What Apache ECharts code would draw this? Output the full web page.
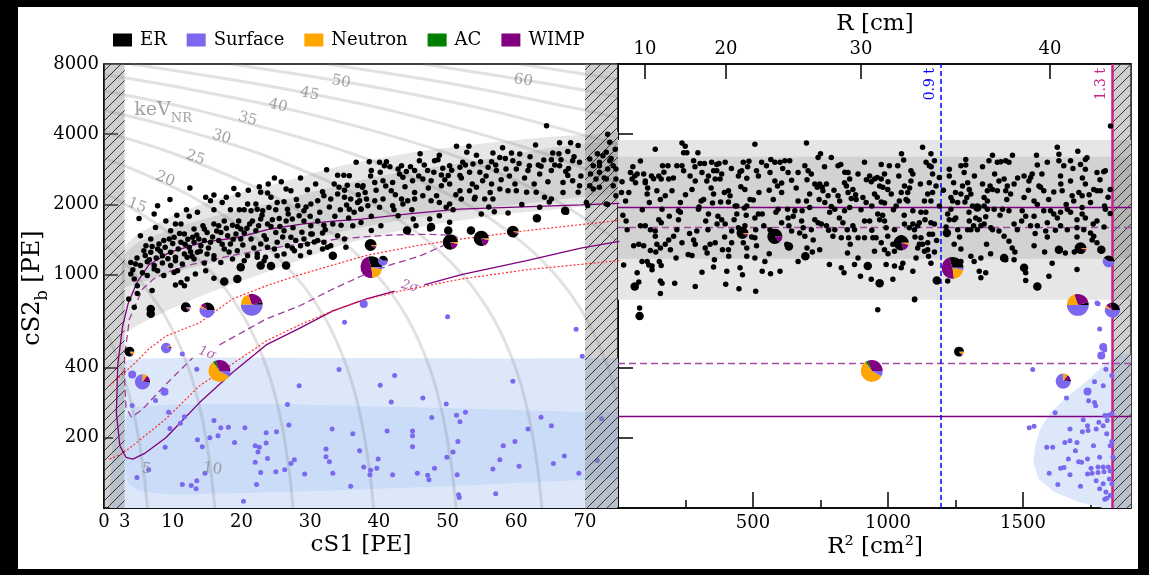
<!DOCTYPE html>
<html><head><meta charset="utf-8">
<script src="https://cdn.jsdelivr.net/npm/echarts@6/dist/echarts.min.js"></script>
<style>
html,body{margin:0;padding:0;background:#000;width:1149px;height:575px;overflow:hidden}
#c{position:absolute;left:18px;top:7px;width:1120px;height:562px;background:#fff}
</style></head><body><div id="c"></div>
<script>
// ---------------- DATA ----------------
const legendNames = ['ER','Surface','Neutron','AC','WIMP'];
const cs1Ticks = [3,10,20,30,40,50,60,70];
const cs1Labels = [0,3,10,20,30,40,50,60,70];
const cs2Ticks = [200,400,1000,2000,4000];
const cs2Labels = [200,400,1000,2000,4000,8000];
const r2Major = [500,1000,1500];
const r2Minor = [250,750,1250,1750];
const rTopTicks = [100,400,900,1600]; // R^2 of R = 10,20,30,40 cm

// ER band (left): cS1 grid, outer (2 sigma) and inner (1 sigma) edges
const erBandX   = [3,5,10,15,20,25,30,35,40,45,50,55,60,65,70,74.8];
const erOuterLo = [560,610,720,830,940,1060,1200,1350,1480,1580,1680,1760,1840,1900,1960,2020];
const erOuterHi = [1330,1500,1800,2050,2250,2450,2700,2950,3150,3350,3500,3650,3780,3900,3980,4100];
const erInnerLo = [880,920,1020,1110,1200,1310,1420,1540,1650,1750,1840,1920,2000,2080,2160,2230];
const erInnerHi = [1230,1380,1580,1750,1900,2050,2250,2450,2650,2800,2950,3100,3300,3500,3650,3750];
// surface band (left)
const sfOuter = [[0.8,100],[0.8,110],[1.2,185],[2,330],[2.8,410],[3.5,432],[5,437],[10,440],[20,442],[30,440],[40,440],[50,438],[60,437],[70,440],[74.8,440],[74.8,100]];
const sfInner = [[3,150],[3,200],[3.3,250],[4.5,272],[10,278],[20,280],[30,277],[40,272],[50,268],[60,263],[70,258],[74.8,258],[74.8,134],[70,132],[60,128],[50,124],[40,121],[30,118],[20,116],[10,114],[5,118],[3.5,128]];
// right panel bands
const rBandOuter = [780,3780];
const rBandInner = [1170,3200];
const rSurfBlob = [[1900,460],[1849,450],[1797,407],[1745,357],[1668,303],[1603,257],[1564,218],[1545,185],[1538,157],[1558,133],[1616,117],[1706,106],[1797,100],[1900,100]];

// keV_NR iso-energy contours (cS1, cS2b)
const kev05 = [[6.32,100],[5.68,150],[4.39,250],[2.47,400],[1.2,500],[0,593]];
const kev10 = [[16.12,100],[15.48,150],[14.19,250],[12.27,400],[9.07,650],[4.58,1000],[2,1200],[0,1357]];
const kev15 = [[27.52,100],[26.88,150],[25.59,250],[23.67,400],[20.47,650],[15.98,1000],[9.57,1500],[4,1934],[0,2246]];
const kev20 = [[39.22,100],[38.58,150],[37.29,250],[35.37,400],[32.17,650],[27.68,1000],[21.27,1500],[12.29,2200],[5,2769],[0,3159]];
const kev25 = [[51.22,100],[50.58,150],[49.29,250],[47.37,400],[44.17,650],[39.68,1000],[33.27,1500],[24.29,2200],[10.19,3300],[0,4095]];
const kev30 = [[63.72,100],[63.08,150],[61.79,250],[59.87,400],[56.67,650],[52.18,1000],[45.77,1500],[36.79,2200],[22.69,3300],[10,4290],[0,5070]];
const kev35 = [[74.8,289],[73.37,400],[70.17,650],[65.68,1000],[59.27,1500],[50.29,2200],[36.19,3300],[14.4,5000],[0,6123]];
const kev40 = [[74.8,1381],[73.27,1500],[64.29,2200],[50.19,3300],[28.4,5000],[9.17,6500],[0,7215]];
const kev45 = [[74.8,2473],[64.19,3300],[42.4,5000],[23.17,6500],[3.94,8000]];
const kev50 = [[74.8,3604],[56.9,5000],[37.67,6500],[18.44,8000]];
const kev55 = [[74.8,4696],[70.9,5000],[51.67,6500],[32.44,8000]];
const kev60 = [[74.8,5788],[65.67,6500],[46.44,8000]];
const kev65 = [[74.8,6880],[60.44,8000]];
const kevLabelText = ['5','10','15','20','25','30','35','40','45','50','60'];
const kevLabelPos = [[6.2,147],[15.8,147],[4.8,1975],[8.9,2570],[13.3,3170],[17.1,3890],[20.9,4650],[25.3,5300],[29.9,5950],[34.5,6720],[61.0,6800]];
const kevUnitPos = [8.6,4950];

// WIMP contours and NR quantile lines (cS1, cS2b)
const wimp2sA = [[75,2020],[69.4,1990],[60,1950],[51.7,1910],[45,1830],[37.5,1730],[33.9,1700],[29,1650],[24.2,1570],[19.3,1440],[14.5,1380],[9.6,1250],[6.5,1100],[4.8,927],[3.5,750],[2.7,600],[2.0,410],[1.8,256],[2.3,185],[3.2,165],[4.2,162],[6,172],[9,200],[13.9,283],[18.7,381],[23.6,500],[28.5,590],[33.3,700],[38.2,787],[42.3,850]];
const wimp2sB = [[46.6,905],[52,1000],[61.5,1150],[69.4,1300],[75,1390]];
const wimp1sA = [[51.5,1440],[50.8,1475],[46.9,1490],[42,1480],[37.5,1450],[33.9,1420],[26.6,1330],[19.3,1220],[12.1,1095],[9,1020],[7.2,958],[5.6,868],[3.7,646],[3.0,450],[3.0,355],[3.2,270],[4.0,245],[5.6,265],[9.05,340],[12.9,440]];
const wimp1sB = [[16.8,500],[23.6,646],[28.5,736],[33.3,868],[38.2,1010],[42,1110],[45.9,1200],[49.3,1330],[51.5,1440]];
const nrUpper = [[0.8,334],[2.5,370],[4.2,410],[6.5,480],[9,545],[13.9,622],[18.7,787],[23.6,896],[28.5,1000],[33.3,1100],[38.2,1210],[45.4,1330],[51.7,1420],[61.5,1545],[75,1710]];
const nrLower = [[0.8,162],[2.5,170],[4.2,185],[6.5,210],[9,241],[13.9,334],[16.8,381],[20,440],[23.6,520],[28.5,610],[33.3,700],[37.2,770],[43,850],[52,958],[61.5,1050],[75,1150]];
const sigmaLabelText = ['2σ','1σ'];
const sigmaLabelPos = [[44.5,890],[15.0,461]];

// right panel reference lines
const r2Cut09 = 1196;   // 0.9 t
const r2Cut13 = 1832;   // 1.3 t
const cs2LinesSolid = [1950,248];
const cs2LinesDashed = [1590,417];

// hatched (excluded) regions
const hatchLeft = [[0,3],[70,74.8]];
const hatchRight = [[1832,1900]];

// ER events (left: cS1, cS2b)
const erLeft = [[36.7,3030],[32.4,2820],[34.0,2670],[34.9,2670],[35.7,2655],[24.8,2600],[23.9,2450],[22.6,2380],[26.5,2330],[27.2,2290],[29.6,2310],[31.8,2270],[33.5,2450],[34.2,2370],[35.4,2420],[36.9,2410],[37.6,2370],[18.9,2340],[22.8,2255],[23.8,2240],[24.3,2150],[25.2,2040],[26.2,2055],[22.1,2010],[20.9,2010],[22.3,1910],[18.4,1900],[19.7,1900],[20.4,1900],[21.4,1880],[23.1,1880],[24.0,1940],[26.7,1910],[28.2,1976],[29.1,1880],[30.1,2010],[31.1,2075],[32.0,2180],[33.0,2110],[34.0,2220],[35.0,2150],[35.9,2110],[36.9,2040],[37.4,1910],[35.3,1990],[35.7,1910],[15.5,2075],[17.2,2040],[16.0,2195],[7.8,1976],[7.3,1820],[5.1,1740],[16.0,1900],
[9.0,1700],[10.4,1650],[11.2,1650],[12.4,1780],[13.1,1568],[14.6,1568],[15.0,1518],[16.0,1650],[16.7,1621],[17.5,1700],[18.7,1630],[19.4,1610],[19.9,1568],[21.6,1700],[22.8,1732],[23.8,1650],[24.3,1610],[25.5,1740],[26.5,1700],[27.4,1732],[28.4,1789],[29.1,1700],[30.1,1621],[31.1,1700],[32.0,1630],[33.3,1650],[34.5,1630],[36.2,1621],[37.4,1675],[7.5,1595],[9.7,1543],[11.7,1493],[12.9,1446],[13.8,1423],[14.6,1400],[17.0,1518],[18.0,1469],[19.2,1493],[20.4,1508],[22.1,1543],[23.3,1469],[25.0,1518],[26.2,1543],[27.2,1446],[27.9,1400],[29.1,1423],[30.3,1493],[31.8,1508],[34.0,1469],[35.0,1423],[5.3,1469],[6.1,1331],[6.8,1423],[8.0,1354],[8.7,1400],[9.5,1423],[10.2,1446],[11.2,1377],[12.4,1310],[13.1,1377],[14.1,1331],[15.5,1377],[16.7,1400],[18.4,1354],[19.9,1423],[21.4,1423],[22.8,1354],[23.8,1310],[25.2,1377],[26.7,1331],[27.7,1268],[28.6,1331],[29.6,1354],[31.1,1400],[32.0,1377],[33.0,1331],[5.8,1268],[6.8,1247],[7.8,1289],[8.5,1206],[9.7,1247],[10.4,1187],[11.7,1227],[12.6,1255],[13.6,1247],[15.0,1227],[16.0,1206],[17.5,1289],[19.4,1268],[20.9,1206],[22.3,1227],[23.5,1187],[24.8,1289],[26.2,1227],[27.4,1297],[28.6,1206],[29.9,1247],
[3.9,1129],[4.6,1112],[5.3,1095],[6.3,1137],[7.3,1095],[7.8,1040],[8.5,1121],[9.7,1095],[10.4,1148],[11.4,1112],[12.1,1187],[13.1,1167],[14.6,1121],[16.0,1167],[17.0,1129],[18.7,1167],[20.4,1148],[22.3,1187],[23.3,1148],[25.2,1206],[3.9,1007],[4.4,958],[4.85,897],[6.3,992],[7.3,1057],[8.7,992],[10.2,1022],[11.2,927],[11.7,897],[12.1,958],[13.3,1007],[14.8,1040],[16.0,965],[10.4,903],[4.85,830],[7.0,855],[4.4,725],[3.6,786],[30.1,1493],[10.7,1040],[31.8,1289],[32.5,1310],[35.2,1310],
[4.2,1050],[4.8,1180],[5.6,1020],[6.0,1210],[6.6,1160],[7.0,1320],[7.6,1180],[8.2,1260],[8.9,1310],[9.3,1170],[10.0,1360],[10.8,1290],[11.0,1500],[11.8,1350],[12.2,1420],[12.8,1200],[13.5,1480],[14.0,1260],[14.4,1620],[15.2,1300],[15.8,1450],[16.4,1540],[17.2,1350],[17.8,1580],[18.2,1250],[18.8,1420],[19.6,1700],[20.2,1340],[20.8,1580],[21.2,1650],[21.8,1300],[22.5,1620],[23.0,1800],[23.6,1420],[24.5,1720],[25.0,1900],[25.6,1610],[26.0,1450],[26.8,1820],[27.5,1590],[28.0,2100],[28.8,1520],[29.4,1950],[30.0,1780],[30.6,1380],[31.4,1850],[32.2,1560],[32.8,1950],[33.6,1780],[34.4,1900],[35.0,2300],[35.6,1750],[36.4,1850],[37.0,2200],[10.6,1800],[12.0,1900],[13.6,1850],[14.8,2150],[17.8,2150],[19.5,2200],[21.0,2300],[25.8,2500],[28.6,2600],[30.8,2450],[12.5,2350],[9.6,2100],
[64.4,4350],[51.3,3550],[53.1,3550],[66.3,3680],[67.9,3680],[69.0,3575],[54.2,3250],[48.8,3250],[48.6,3110],[48.1,3080],[56.6,3320],[59.3,3320],[60.5,3290],[65.3,3320],[67.5,3370],[45.9,3080],[43.3,2933],[41.1,3050],[40.1,3031],[38.6,3050],[40.8,2933],[57.6,3180],[59.5,3080],[56.4,3050],[53.7,2980],[52.2,3031],[51.8,2885],[50.3,2933],[49.3,2860],[47.1,2795],[45.2,2795],[44.0,2770],[42.8,2840],[38.9,2795],[61.9,2933],[63.6,2915],[65.1,3110],[66.5,3110],[68.2,3080],[69.2,3031],[66.3,2933],[67.2,2770],[65.1,2795],[63.4,2700],[61.7,2795],[60.0,2840],[58.5,2840],[57.1,2795],[55.9,2885],[54.7,2748],[53.2,2748],[51.8,2659],[50.1,2659],[49.1,2676],[47.6,2530],[46.4,2571],[44.9,2530],[43.5,2615],[42.0,2487],[40.6,2530],[39.4,2487],[37.7,2408],[37.2,2075],[38.2,2111],[39.4,2075],[40.6,2111],[41.8,2290],[43.3,2111],[44.2,2075],[45.2,2111],[46.4,2180],[47.6,2075],[49.1,2408],[50.3,2447],[51.8,2290],[53.2,2290],[54.2,2368],[55.1,2530],[56.4,2447],[57.6,2329],[58.8,2290],[60.0,2290],[61.5,2255],[62.9,2255],[64.1,2145],[65.1,2111],[66.8,2487],[68.2,2530],[69.2,2408],[67.5,2659],[69.0,2255],[48.8,2041],[50.3,2010],[52.0,2111],[53.9,2111],[55.4,2111],[56.6,2111],[49.8,1945],[43.5,2010],[42.0,1976],[40.1,1945],[38.4,1976],[37.4,1911],[48.8,1790],[47.4,1734],[45.0,1734],[42.8,1790],[40.3,1622],[38.9,1780],[45.4,1622],[47.6,1622],[50.3,1678],[54.9,1820],[56.8,1860],[58.8,1840],[63.4,1945],[67.3,1850],[47.4,1571],[38.9,1545],
[38.0,2250],[38.8,2650],[39.6,2300],[40.2,2750],[41.0,2400],[41.6,2900],[42.4,2200],[43.0,2700],[43.8,2380],[44.6,2900],[45.2,2250],[45.8,2650],[46.6,2950],[47.2,2350],[48.0,2750],[48.4,2180],[49.6,2550],[50.6,2800],[51.2,2200],[52.0,2600],[52.6,2950],[53.6,2450],[54.0,2150],[54.8,3050],[55.6,2650],[56.2,2250],[57.0,2950],[57.8,2550],[58.4,3150],[59.0,2650],[59.8,2450],[60.4,3000],[61.2,2600],[62.0,3200],[62.6,2450],[63.2,2950],[64.0,3100],[64.6,2500],[65.6,2950],[66.2,3300],[66.8,2250],[67.6,2850],[68.4,3200],[69.4,2650],[42.2,1900],[44.8,1900],[50.8,1900],[56.0,1950],[60.8,2000],[64.8,2050],[46.0,3300],[52.8,3350],[58.0,3500],[62.8,3600],
[70.7,3133],[71.2,2933],[72.1,3031],[72.6,3236],[73.1,3347],[73.6,3080],[74.1,2933],[74.5,2840],[72.1,2748],[73.3,2840],[70.7,2408],[71.6,2571],[73.1,2571],[74.1,2408],[74.5,2571],[73.1,2010],[74.5,2180],[71.2,2329],[72.1,2368],[73.6,3700],[70.2,2041],[72.1,2933],[73.3,4000],[70.4,1980],[73.3,2000],[70.8,2700],[71.8,3300],[72.8,2600],[73.8,3150],[74.4,3450]];
const erLeftBig = [[26.5,1095],[19.4,958],[17.5,935],[19.9,1075],[24.3,1090],[22.8,1095],[6.8,713],[6.8,680],[63.0,1745],[53.4,1545],[50.1,1545],[44.1,1545],[47.6,1600],[33.3,1206],[67.1,1880]];

// Surface events (left)
const sfLeft = [[11.4,457],[13.5,393],[7.5,289],[4.1,275],[9.4,257],[11.7,246],[11.1,231],[9.6,219],[8.9,182],[13.6,196],[14.3,183],[16.0,237],[15.4,200],[16.6,204],[17.0,221],[18.1,222],[19.0,191],[20.5,221],[22.0,185],[22.6,182],[23.6,190],[22.4,174],[22.0,157],[23.8,163],[25.1,212],[23.6,210],[26.7,278],[26.9,227],[28.4,334],[27.7,161],[27.2,155],[26.3,146],[25.0,143],[22.8,142],[22.2,126],[20.3,107],[14.7,141],[13.5,131],[12.7,125],[13.4,121],[11.4,126],[6.5,146],[4.8,135],[29.2,140],[32.3,179],[32.3,166],[32.8,158],[33.2,218],[33.3,141],[34.2,392],[35.9,124],[36.2,208],[37.2,176],[37.8,150],[38.8,145],[38.7,139],[39.7,148],[39.9,162],[40.2,336],[41.2,214],[41.8,285],[42.0,139],[42.3,370],[44.9,214],[44.9,204],[44.9,183],[45.6,141],[46.4,296],[47.1,138],[47.3,132],[47.7,244],[48.1,148],[49.8,279],[49.9,165],[50.8,174],[51.3,250],[51.8,234],[51.5,193],[51.4,139],[51.7,111],[51.6,114],[52.6,257],[56.6,147],[57.0,115],[57.6,161],[58.1,185],[59.5,349],[59.8,193],[60.4,151],[61.7,218],[63.6,245],[65.1,225],[65.4,155],[67.0,167],[69.1,141],[69.6,447],[68.7,583],[35.0,625],[50.0,660]];
const sfLeftBig = [[37.8,748],[4.1,373],[8.8,315]];
const sfLeftMasked = [[72.4,241],[71.8,160]];

// pies: [x, cS2b, weight, ER, Surface, Neutron, AC, WIMP]
const pieLeft = [[38.9,1077,3,0.30,0.03,0.20,0,0.47],[21.5,743,3,0.04,0.50,0.20,0,0.26],[16.8,387,3,0,0.08,0.57,0.04,0.31],[15.0,705,2,0.30,0.55,0.05,0,0.10],[5.6,347,2,0.03,0.75,0.10,0,0.12],[11.9,725,1.2,0.85,0.05,0.03,0,0.07],[3.7,468,1.2,0.85,0,0.10,0,0.05],[50.4,1380,2,0.80,0,0.04,0,0.16],[54.9,1430,2,0.80,0,0.03,0,0.17],[59.5,1530,1.5,0.92,0,0.03,0,0.05],[38.8,1340,1.5,0.90,0,0.04,0,0.06],[9.05,485,1.3,0,0.90,0.05,0,0.05],[40.6,1147,1.2,0.40,0.60,0,0,0]];

// ER events (right: R^2, cS2b)
const erRight = [[15,2500],[13,2250],[28,2070],[46,2740],[52,2570],[62,2650],[40,2250],[18,1800],[34,1560],[71,2700],[83,3070],[95,2700],[101,2520],[65,2480],[58,1330],[77,1350],[95,1330],[83,1620],[101,1620],[120,1560],[89,1140],[114,1100],[126,1090],[108,1140],[71,1020],[77,930],[21,1100],[101,2480],[108,2220],[116,2040],[124,2650],[80,720],[126,1050],
[138,3450],[132,2580],[151,2650],[165,2930],[185,2930],[160,2570],[188,2570],[200,2290],[175,2180],[144,2290],[157,2100],[163,1910],[151,1720],[160,1670],[138,1460],[144,1350],[157,1300],[175,1350],[188,1410],[194,1280],[153,1140],[160,1095],[157,940],[163,920],[157,830],[237,3670],[249,3550],[243,3330],[255,3330],[218,2930],[237,2930],[243,2790],[231,2040],[231,1850],[224,1720],[218,1560],[206,1460],[237,1370],[210,920],[138,1540],[224,1880],
[296,3330],[280,3080],[304,3000],[320,3000],[267,2650],[286,2520],[274,2320],[311,2740],[329,2520],[335,2650],[308,2070],[317,2100],[298,1910],[335,1820],[325,1700],[333,1560],[292,1540],[280,1410],[286,1350],[323,1300],[341,1350],[360,1370],[274,1210],[311,1025],[286,890],[347,3030],[354,2790],[366,2790],[360,2570],[354,2220],[350,2030],[370,1780],[367,1650],[357,1160],[354,1080],[366,2970],
[374,3000],[397,3030],[384,2700],[378,2570],[394,2250],[409,2290],[384,1720],[397,1650],[415,2180],[409,2050],[434,1970],[440,1820],[421,1540],[387,1280],[409,1280],[421,1370],[403,1035],[399,910],[446,2650],[452,2760],[464,3030],[458,2790],[477,2590],[470,2320],[440,1970],[468,1930],[477,1970],[446,1590],[470,1620],[464,1370],[477,1300],[452,1070],[461,1000],[448,870],[485,3060],[489,2100],[477,1200],
[507,3620],[513,2790],[532,3030],[550,2930],[563,2740],[566,3120],[581,3030],[600,3030],[581,2520],[591,2400],[606,2250],[606,2470],[522,2250],[501,2090],[507,1750],[520,1820],[534,1820],[575,2100],[510,1560],[507,1440],[513,1330],[544,1140],[507,1180],[534,1035],[510,850],[565,1010],[600,1035],[579,1400],[593,1910],[563,1560],[606,1670],[618,3080],[636,3080],[630,2740],[643,2540],[628,1910],
[655,1880],[667,2070],[682,1880],[698,2070],[710,1940],[692,2930],[704,2790],[716,2700],[729,2450],[738,2370],[747,2450],[756,2370],[710,2220],[667,2740],[649,1780],[643,1540],[633,1620],[673,1510],[686,1590],[692,1460],[667,1140],[716,1560],[729,1720],[741,1670],[747,1280],[630,1750],[698,3670],[741,3180],[790,3180],[723,1410],
[759,2290],[772,2450],[778,2180],[790,1960],[784,1850],[803,1910],[815,2180],[821,2070],[766,2040],[753,1650],[772,1620],[796,1460],[803,1560],[827,1440],[839,2480],[846,2400],[815,2930],[825,2970],[852,2740],[858,2570],[852,2250],[864,2120],[839,1880],[858,1940],[833,1670],[849,1560],[854,1440],[876,1560],[889,1440],[870,1620],[783,1105],[827,1070],[837,1020],[876,1105],[889,1180],[898,985],[938,955],
[889,2700],[913,3030],[932,2650],[938,2500],[950,2570],[960,2610],[975,2970],[1005,2930],[987,2700],[975,2570],[969,2400],[981,2370],[999,2320],[1012,2220],[950,2220],[919,2040],[940,1970],[975,2050],[987,2030],[913,1700],[932,1700],[962,1820],[969,1720],[987,1700],[913,1440],[944,1440],[956,1440],[975,1370],[950,1260],[987,1280],[993,1590],[999,1460],[993,1105],[1024,1090],[1018,955],[962,707],[907,2140],[882,2100],[870,2320],
[1036,2930],[1058,3100],[1085,2790],[1092,2700],[1085,2520],[1061,2400],[1049,2250],[1073,2250],[1067,2100],[1042,2070],[1030,1970],[1092,1880],[1073,2070],[1092,1650],[1079,1590],[1110,1620],[1116,1670],[1098,1560],[1061,1650],[1049,1440],[1024,1560],[1055,1120],[1049,1070],[1092,1035],[1098,780],[1104,1180],[1110,1300],[1116,1350],[1122,1440],[1024,1260],[1018,1350],
[1128,3520],[1141,3030],[1153,2930],[1159,3300],[1165,2700],[1172,3080],[1153,2480],[1165,2250],[1178,2400],[1147,2220],[1159,2070],[1135,2070],[1190,2610],[1190,1970],[1122,1850],[1137,1720],[1159,1670],[1172,1650],[1153,1490],[1165,1490],[1128,1350],[1135,1260],[1147,1280],[1172,1250],[1159,1120],[1147,1370],
[1227,2830],[1227,2650],[1233,2140],[1239,2070],[1233,1910],[1221,1820],[1227,1720],[1245,1720],[1251,1750],[1258,2040],[1270,2220],[1276,2400],[1282,2740],[1288,2950],[1288,3120],[1270,2930],[1295,2480],[1301,2320],[1307,2220],[1292,2140],[1313,1970],[1331,1940],[1325,1750],[1338,1720],[1301,1700],[1317,1620],[1307,1560],[1331,1560],[1245,1350],[1258,1560],[1295,1560],[1307,1200],[1319,1140],[1344,1180],[1338,1035],[1344,970],[1362,1020],[1270,1140],[1221,940],[1243,2480],
[1374,3080],[1387,3250],[1405,3030],[1418,3050],[1436,3080],[1448,3030],[1461,3250],[1430,2570],[1411,2520],[1378,2400],[1368,2290],[1387,2320],[1405,2290],[1436,2290],[1442,2400],[1467,2450],[1454,2220],[1356,2140],[1368,2070],[1356,1970],[1368,1910],[1393,1910],[1424,1910],[1448,1880],[1362,1770],[1356,1650],[1381,1590],[1411,1540],[1430,1460],[1448,1390],[1387,1560],[1344,1620],[1436,1160],[1467,1160],[1510,1020],[1510,945],[1467,1650],[1479,1560],
[1504,2650],[1528,2610],[1534,2700],[1522,2520],[1553,2950],[1590,3030],[1559,2400],[1577,2290],[1565,2370],[1541,2070],[1553,2000],[1504,2140],[1510,1780],[1497,1880],[1541,1780],[1577,1880],[1602,1880],[1614,1820],[1590,1670],[1553,1620],[1528,1620],[1584,1540],[1590,1450],[1639,1620],[1627,1750],[1639,1850],[1541,1330],[1596,985],[1608,1120],[1657,1240],[1627,3520],[1633,3280],[1633,3080],[1639,2650],[1614,2260],[1645,2290],[1651,2930],
[1676,3080],[1703,3380],[1713,2970],[1731,3120],[1737,3170],[1731,2830],[1676,2520],[1682,2180],[1688,2070],[1707,2250],[1719,2180],[1731,2450],[1750,2040],[1762,2320],[1774,2740],[1799,2760],[1774,2290],[1805,2790],[1787,2290],[1664,1910],[1676,1850],[1700,1720],[1719,1820],[1719,1940],[1731,1750],[1774,1700],[1802,1970],[1805,1910],[1725,1560],[1750,1510],[1700,1590],[1756,1410],[1774,1370],[1700,1052],[1823,2320],[1823,1830],[1762,1460],[1664,1560],[1824,4340],[79,670],[1099,786],
[30,1700],[55,2900],[90,1900],[110,2350],[140,1250],[170,2750],[190,1780],[205,2600],[215,1180],[250,2200],[265,1500],[285,2900],[300,1950],[330,1240],[345,2350],[380,2050],[395,1450],[420,2850],[430,1720],[455,2380],[475,1800],[495,1450],[520,2650],[540,1620],[560,2300],[585,1850],[610,2850],[625,1350],[660,2350],[680,1700],[700,2550],[720,1250],[745,2100],[765,2900],[780,1550],[800,2300],[820,1750],[840,2750],[860,1350],[880,2200],[900,1900],[920,2550],[940,1550],[960,2150],[980,1800],[1000,2500],[1020,1900],[1040,2650],[1060,1800],[1080,2350],[1100,1450],[1120,2450],[1140,1850],[1160,2900],[1180,1400],[1205,2300],[1215,1600],[1250,2250],[1265,1450],[1285,2050],[1300,1850],[1320,2650],[1350,2450],[1365,1350],[1395,2700],[1415,1800],[1440,2100],[1460,1300],[1480,2600],[1495,1700],[1520,2300],[1545,1500],[1570,2700],[1595,2100],[1620,1550],[1640,2450],[1660,2000],[1685,2850],[1700,1450],[1720,2600],[1745,2200],[1760,1650],[1785,2550],[1800,1600],[1815,2150],[1690,1250],[1580,1250],[1470,1250],[1380,1230],[1270,1290],[1150,1200],[1000,1230],[850,1240],[700,1300],[560,1230],[410,1200],[260,1220],[120,1270],[480,2900],[750,3300],[1050,3300],[1350,2900],[1550,3250]];
const erRightBig = [[633,1320],[694,1200],[925,1090],[969,920],[1181,945],[1218,1510],[1633,1280],[1790,1280],[1504,1070],[1430,1180],[1553,890],[80,665],[62,890],[1331,1940]];

// Surface events (right)
const sfRight = [[1778,750],[1784,585],[1803,475],[1790,450],[1536,392],[1807,393],[1829,370],[1765,348],[1797,334],[1739,316],[1661,296],[1743,288],[1765,283],[1769,274],[1619,256],[1803,249],[1816,250],[1829,254],[1723,239],[1781,233],[1812,237],[1523,221],[1541,224],[1674,218],[1739,225],[1797,225],[1771,218],[1741,215],[1810,208],[1720,212],[1700,191],[1655,191],[1674,194],[1829,193],[1588,182],[1610,182],[1694,176],[1761,185],[1823,185],[1668,162],[1706,158],[1717,157],[1739,162],[1784,165],[1833,165],[1639,148],[1652,149],[1752,148],[1778,150],[1797,150],[1816,150],[1597,141],[1674,139],[1739,140],[1756,141],[1778,142],[1800,143],[1823,144],[1629,126],[1713,124],[1771,131],[1797,127],[1820,133],[1829,127],[1784,121],[1807,117],[1810,110],[1803,109],[1823,113],[1774,756]];
const sfRightBig = [[1790,450],[1739,316],[1797,490]];

const pieRight = [[1239,1070,3,0.30,0.03,0.20,0,0.47],[1703,742,3,0.04,0.50,0.20,0,0.26],[940,387,3,0,0.08,0.57,0.04,0.31],[1831,705,2,0.30,0.55,0.05,0,0.10],[1649,350,2,0.03,0.75,0.10,0,0.12],[581,1460,2,0.85,0,0,0,0.15],[1049,1370,2,0.80,0,0.04,0,0.16],[1263,468,1.2,0.85,0,0.10,0,0.05],[1817,1140,1.5,0.40,0.60,0,0,0],[1713,1300,1.5,0.92,0,0.03,0,0.05],[461,1510,1.5,0.90,0,0.04,0,0.06]];

// ---------------- STYLE / BUILD ----------------
const F = "'DejaVu Serif', serif";
const C_ER='#000000', C_SF='#7b68ee', C_NT='#ffa500', C_AC='#008000', C_WI='#800080';

function makeHatch(){
  const c=document.createElement('canvas'); c.width=10; c.height=10;
  const g=c.getContext('2d');
  g.fillStyle='rgba(128,128,128,0.38)'; g.fillRect(0,0,10,10);
  g.strokeStyle='#222'; g.lineWidth=0.9;
  g.beginPath(); g.moveTo(0,10); g.lineTo(10,0); g.moveTo(-5,5); g.lineTo(5,-5); g.moveTo(5,15); g.lineTo(15,5); g.stroke();
  return c;
}
const hatchImg = makeHatch();

function bandPoly(xs, lo, hi, cap){
  const p = xs.map((x,i)=>[x,lo[i]]);
  const q = xs.map((x,i)=>[x,hi[i]]).reverse();
  return p.concat(q).concat(cap ? [cap] : []);
}
function poly(g, pts, fill, z){
  return {type:'custom', xAxisIndex:g===0?0:1, yAxisIndex:g, z:z, clip:true, silent:true, animation:false,
    data:[pts[0]], encode:{x:0,y:1},
    renderItem:(p,api)=>({type:'polygon', shape:{points:pts.map(v=>api.coord(v))}, style:{fill:fill, stroke:null}})};
}
function hatchSeries(g, ranges){
  return {type:'custom', xAxisIndex:g===0?0:1, yAxisIndex:g, z:4, clip:true, silent:true, animation:false,
    data:ranges.map(r=>[r[0],r[1],100,8000]), encode:{x:[0,1], y:[2,3]},
    renderItem:(p,api)=>{
      const a=api.coord([api.value(0),8000]), b=api.coord([api.value(1),100]);
      return {type:'rect', shape:{x:a[0],y:a[1],width:b[0]-a[0],height:b[1]-a[1]}, style:{fill:{image:hatchImg, repeat:'repeat'}, stroke:null}};
    }};
}
function pieSeries(g, data){
  return {type:'custom', name:'pies'+g, xAxisIndex:g===0?0:1, yAxisIndex:g, z:9, clip:false, silent:true, animation:false,
    data:data, encode:{x:0,y:1},
    renderItem:(p,api)=>{
      const c=api.coord([api.value(0),api.value(1)]);
      const r=1+3.3*api.value(2);
      const fr=[api.value(3),api.value(7),api.value(6),api.value(5),api.value(4)];
      const cols=[C_ER,C_WI,C_AC,C_NT,C_SF];
      const tot=fr.reduce((s,v)=>s+v,0);
      let a=0; const ch=[];
      for(let i=0;i<5;i++){ if(fr[i]<=0) continue; const s=fr[i]/tot*Math.PI*2;
        ch.push({type:'sector', shape:{cx:c[0],cy:c[1],r0:0,r:r,startAngle:-a,endAngle:-(a+s),clockwise:false}, style:{fill:cols[i]}});
        a+=s; }
      return {type:'group', children:ch};
    }};
}
function scat(name, g, data, color, size, z){
  return {type:'scatter', name:name, xAxisIndex:g===0?0:1, yAxisIndex:g, data:data, symbolSize:size, z:z, silent:true, animation:false,
    itemStyle:{color:color, opacity:1}};
}
function line(g, data, color, width, type, z){
  return {type:'line', xAxisIndex:g===0?0:1, yAxisIndex:g, data:data, showSymbol:false, symbol:'none', z:z, silent:true, animation:false,
    lineStyle:{color:color, width:width, type:type}};
}

const series = [];
series.push(poly(0, sfOuter, '#dce8fa', 1));
series.push(poly(0, sfInner, '#cadcf7', 1.1));
series.push(poly(0, bandPoly(erBandX, erOuterLo, erOuterHi, [2.3,850]), '#e6e6e6', 1.2));
series.push(poly(0, bandPoly(erBandX, erInnerLo, erInnerHi, [2.5,1040]), '#d2d2d2', 1.3));
series.push(poly(1, [[0,rBandOuter[0]],[1900,rBandOuter[0]],[1900,rBandOuter[1]],[0,rBandOuter[1]]], '#e6e6e6', 1.2));
series.push(poly(1, [[0,rBandInner[0]],[1900,rBandInner[0]],[1900,rBandInner[1]],[0,rBandInner[1]]], '#d2d2d2', 1.3));
series.push(poly(1, rSurfBlob, '#dce8fa', 1.4));
[kev05,kev10,kev15,kev20,kev25,kev30,kev35,kev40,kev45,kev50,kev55,kev60,kev65].forEach(k=>{
  const s=line(0,k,'rgba(128,128,128,0.24)',3,'solid',2); s.smooth=0.3; series.push(s);
});
series.push(scat('Surface',0,sfLeftMasked,C_SF,5,3));
series.push(hatchSeries(0, hatchLeft));
series.push(hatchSeries(1, hatchRight));
series.push(line(0, wimp2sA, C_WI, 1.3, 'solid', 5));
series.push(line(0, wimp2sB, C_WI, 1.3, 'solid', 5));
series.push(line(0, wimp1sA, '#9b3f9b', 1.3, [7,4], 5));
series.push(line(0, wimp1sB, '#9b3f9b', 1.3, [7,4], 5));
series.push(line(0, nrUpper, '#ff2a2a', 1.2, [2,2], 5));
series.push(line(0, nrLower, '#ff2a2a', 1.2, [2,2], 5));
const ml = [];
cs2LinesSolid.forEach(v=>ml.push({yAxis:v, lineStyle:{color:C_WI,width:1.3,type:'solid'}, label:{show:false}}));
cs2LinesDashed.forEach(v=>ml.push({yAxis:v, lineStyle:{color:'#a34aa3',width:1.3,type:[7,4]}, label:{show:false}}));
ml.push({xAxis:r2Cut09, lineStyle:{color:'#0000ff',width:1.5,type:[5,3]}, label:{show:true, formatter:'0.9 t', position:'insideEndTop', color:'#0000ff', fontFamily:F, fontSize:14, distance:4}});
ml.push({xAxis:r2Cut13, lineStyle:{color:'#cc2288',width:2.5,type:'solid'}, label:{show:true, formatter:'1.3 t', position:'insideEndTop', color:'#cc2288', fontFamily:F, fontSize:14, distance:4}});
series.push({type:'line', xAxisIndex:1, yAxisIndex:1, data:[[0,100]], symbol:'none', lineStyle:{opacity:0}, z:6, silent:true, animation:false,
  markLine:{symbol:['none','none'], silent:true, animation:false, data:ml}});
series.push(scat('Surface',0,sfLeft,C_SF,5,7));
series.push(scat('Surface',0,sfLeftBig,C_SF,8,7));
series.push(scat('ER',0,erLeft,C_ER,5.5,8));
series.push(scat('ER',0,erLeftBig,C_ER,8.5,8));
series.push(scat('Surface',1,sfRight,C_SF,5,7));
series.push(scat('Surface',1,sfRightBig,C_SF,8,7));
series.push(scat('ER',1,erRight,C_ER,5.5,8));
series.push(scat('ER',1,erRightBig,C_ER,8.5,8));
series.push(pieSeries(0, pieLeft));
series.push(pieSeries(1, pieRight));
series.push(scat('Neutron',0,[],C_NT,5,1));
series.push(scat('AC',0,[],C_AC,5,1));
series.push(scat('WIMP',0,[],C_WI,5,1));
const kevRot = [-8,-8,-22,-22,-20,-17,-15,-14,-12,-11,-10];
series.push({type:'scatter', xAxisIndex:0, yAxisIndex:0, z:10, silent:true, animation:false, symbolSize:1, itemStyle:{color:'rgba(0,0,0,0)'},
  data: kevLabelPos.map((p,i)=>({value:p, label:{show:true, position:'inside', formatter:kevLabelText[i], rotate:kevRot[i], color:'#8a8a8a', fontFamily:F, fontSize:15}}))
    .concat([{value:kevUnitPos, label:{show:true, position:'inside', formatter:'{a|keV}{b|NR}', color:'#8a8a8a', fontFamily:F,
      rich:{a:{fontSize:19, fontFamily:F, color:'#8a8a8a', verticalAlign:'bottom', padding:[0,0,5,0]}, b:{fontSize:13, fontFamily:F, color:'#8a8a8a', verticalAlign:'bottom'}}}}])
    .concat(sigmaLabelPos.map((p,i)=>({value:p, label:{show:true, position:'inside', formatter:sigmaLabelText[i], rotate:i===0?-14:-20, color:'#9b3f9b', fontFamily:F, fontStyle:'italic', fontSize:13}})))
});

const lab = {fontFamily:F, fontSize:18, color:'#000'};
const tick = {lineStyle:{color:'#000', width:1.5}};
const plain = v=>String(Math.round(v));
const option = {
  animation:false,
  textStyle:{fontFamily:F},
  legend:{data:legendNames, left:90, top:19, icon:'rect', itemWidth:19, itemHeight:13, itemGap:20, selectedMode:false,
    textStyle:{fontFamily:F, fontSize:18, color:'#000', padding:[0,0,0,3]}},
  grid:[{left:86, top:57, width:514, height:444, show:true, borderColor:'#000', borderWidth:1.5, backgroundColor:'transparent'},
        {left:600, top:57, width:513, height:444, show:true, borderColor:'#000', borderWidth:1.5, backgroundColor:'transparent'}],
  xAxis:[
    {gridIndex:0, type:'value', min:0, max:74.8, position:'bottom', splitLine:{show:false},
     axisLine:{show:true, onZero:false, lineStyle:{color:'#000', width:1.5}},
     axisTick:Object.assign({show:true, inside:true, length:14, customValues:cs1Ticks}, tick),
     axisLabel:Object.assign({show:true, margin:5, customValues:cs1Labels, formatter:plain}, lab)},
    {gridIndex:1, type:'value', min:0, max:1900, position:'bottom', splitLine:{show:false},
     axisLine:{show:true, onZero:false, lineStyle:{color:'#000', width:1.5}},
     axisTick:Object.assign({show:true, inside:true, length:16, customValues:r2Major}, tick),
     axisLabel:Object.assign({show:true, margin:6, customValues:r2Major, formatter:plain}, lab)},
    {gridIndex:1, type:'value', min:0, max:1900, position:'top', splitLine:{show:false},
     axisLine:{show:true, onZero:false, lineStyle:{color:'#000', width:1.5}},
     axisTick:Object.assign({show:true, inside:true, length:15, customValues:rTopTicks}, tick),
     axisLabel:Object.assign({show:true, margin:6, customValues:rTopTicks, formatter:v=>String(Math.round(Math.sqrt(v)))}, lab)},
    {gridIndex:1, type:'value', min:0, max:1900, position:'bottom', splitLine:{show:false},
     axisLine:{show:false},
     axisTick:Object.assign({show:true, inside:true, length:8, customValues:r2Minor}, tick),
     axisLabel:{show:false}}
  ],
  yAxis:[
    {gridIndex:0, type:'log', logBase:10, min:100, max:8000, splitLine:{show:false},
     axisLine:{show:true, onZero:false, lineStyle:{color:'#000', width:1.5}},
     axisTick:Object.assign({show:true, inside:true, length:14, customValues:cs2Ticks}, tick),
     axisLabel:Object.assign({show:true, margin:5, customValues:cs2Labels, formatter:plain}, lab)},
    {gridIndex:1, type:'log', logBase:10, min:100, max:8000, splitLine:{show:false},
     axisLine:{show:true, onZero:false, lineStyle:{color:'#000', width:1.5}},
     axisTick:Object.assign({show:true, inside:true, length:15, customValues:cs2Ticks}, tick),
     axisLabel:{show:false}}
  ],
  graphic:[
    {type:'text', x:18, y:281, rotation:Math.PI/2, z:100, style:{text:'{m|cS2}{s|b}{m| [PE]}', align:'center', verticalAlign:'middle',
      rich:{m:{fontFamily:F, fontSize:24, fill:'#000', verticalAlign:'bottom', padding:[0,0,6,0]}, s:{fontFamily:F, fontSize:16, fill:'#000', verticalAlign:'bottom'}}}},
    {type:'text', x:343, y:538, z:100, style:{text:'cS1 [PE]', font:'23px "DejaVu Serif", serif', fill:'#000', align:'center', verticalAlign:'middle'}},
    {type:'text', x:857, y:540, z:100, style:{text:'R² [cm²]', font:'23px "DejaVu Serif", serif', fill:'#000', align:'center', verticalAlign:'middle'}},
    {type:'text', x:857, y:17, z:100, style:{text:'R [cm]', font:'23px "DejaVu Serif", serif', fill:'#000', align:'center', verticalAlign:'middle'}}
  ],
  series:series
};
const chart = echarts.init(document.getElementById('c'));
chart.setOption(option);
</script></body></html>
